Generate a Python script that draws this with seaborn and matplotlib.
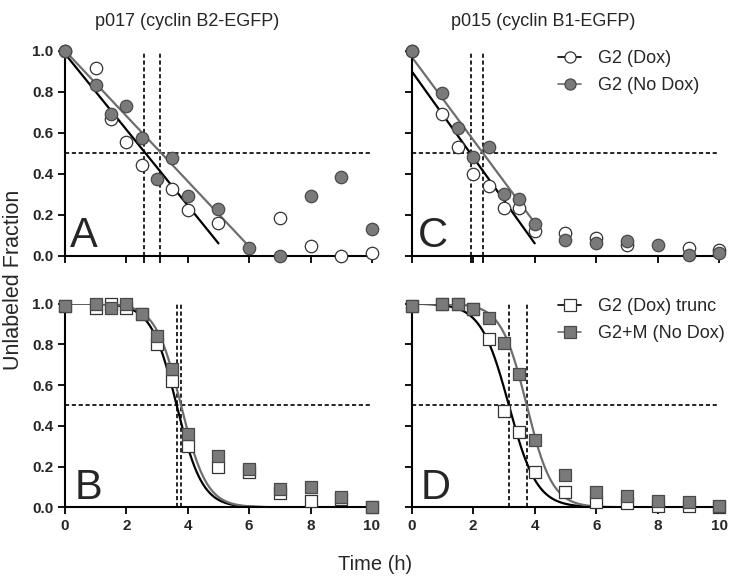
import numpy as np
import pandas as pd
import matplotlib
matplotlib.use('Agg')
import matplotlib.pyplot as plt
import seaborn as sns
from matplotlib.lines import Line2D

# panel A: p017, G2 phase, linear decay
A_t_dox = [0, 1, 1.5, 2, 2.5, 3.5, 4, 5, 7, 8, 9, 10]
A_dox = [1.0, 0.917, 0.665, 0.555, 0.442, 0.324, 0.223, 0.158, 0.182, 0.047, 0.0, 0.015]
A_t_nodox = [0, 1, 1.5, 2, 2.5, 3, 3.5, 4, 5, 6, 7, 8, 9, 10]
A_nodox = [1.0, 0.833, 0.691, 0.732, 0.572, 0.374, 0.478, 0.291, 0.228, 0.036, 0.0, 0.291, 0.382, 0.13]

# panel C: p015, G2 phase
C_t_dox = [0, 1, 1.5, 2, 2.5, 3, 3.5, 4, 5, 6, 7, 9, 10]
C_dox = [1.0, 0.689, 0.532, 0.40, 0.341, 0.234, 0.234, 0.122, 0.112, 0.085, 0.052, 0.037, 0.028]
C_t_nodox = [0, 1, 1.5, 2, 2.5, 3, 3.5, 4, 5, 6, 7, 8, 9, 10]
C_nodox = [1.0, 0.795, 0.625, 0.483, 0.532, 0.299, 0.275, 0.153, 0.076, 0.06, 0.072, 0.052, 0.003, 0.011]

# panels B/D: sigmoid decay
BD_t = [0, 1, 1.5, 2, 2.5, 3, 3.5, 4, 5, 6, 7, 8, 9, 10]
B_dox = [0.99, 0.98, 1.0, 0.98, 0.95, 0.80, 0.62, 0.30, 0.20, 0.175, 0.07, 0.03, 0.04, 0.0]
B_nodox = [0.99, 1.0, 0.98, 1.0, 0.95, 0.84, 0.68, 0.36, 0.25, 0.19, 0.09, 0.10, 0.05, 0.0]
D_dox = [0.99, 1.0, 1.0, 0.975, 0.826, 0.473, 0.37, 0.175, 0.077, 0.028, 0.02, 0.007, 0.005, 0.0]
D_nodox = [0.99, 1.0, 1.0, 0.975, 0.93, 0.808, 0.653, 0.33, 0.158, 0.077, 0.057, 0.033, 0.028, 0.007]

# fit results: linear (intercept, slope, end) and sigmoid (t50, steepness, end)
A_fit = {'dox': (0.985, -0.185, 5.0), 'nodox': (1.0, -0.1593, 6.0)}
C_fit = {'dox': (0.90, -0.21, 4.0), 'nodox': (0.97, -0.2025, 4.0)}
B_fit = {'dox': (3.64, 2.4, 7.0), 'nodox': (3.78, 2.4, 7.0)}
D_fit = {'dox': (3.16, 2.2, 8.0), 'nodox': (3.74, 2.4, 8.0)}
A_half = [2.59, 3.10]
C_half = [1.92, 2.33]
B_half = [3.64, 3.78]
D_half = [3.16, 3.74]

titles = ['p017 (cyclin B2-EGFP)', 'p015 (cyclin B1-EGFP)']
legend_top = ['G2 (Dox)', 'G2 (No Dox)']
legend_bot = ['G2 (Dox) trunc', 'G2+M (No Dox)']

sns.set_style('ticks')
plt.rcParams['font.family'] = ['Liberation Sans', 'DejaVu Sans']

GRAY = '#7a7a7a'
GRAY_EDGE = '#4a4a4a'
LINE_GRAY = '#6e6e6e'

fig = plt.figure(figsize=(7.35, 5.84), dpi=100)
axA = fig.add_axes([0.0884, 0.5622, 0.4177, 0.351])
axB = fig.add_axes([0.0884, 0.1313, 0.4177, 0.349])
axC = fig.add_axes([0.5601, 0.5622, 0.4185, 0.351])
axD = fig.add_axes([0.5601, 0.1313, 0.4185, 0.349])


def lin_curve(fit):
    b, m, end = fit
    x = np.array([0.0, end])
    return pd.DataFrame({'t': x, 'y': b + m * x})


def sig_curve(fit):
    t50, k, end = fit
    x = np.linspace(0, end, 300)
    return pd.DataFrame({'t': x, 'y': 1.0 / (1.0 + np.exp(k * (x - t50)))})


def draw(ax, t_dox, dox, t_nodox, nodox, fits, curve, marker, ms, half, letter, lx, ext_ticks):
    sns.lineplot(data=curve(fits['dox']), x='t', y='y', ax=ax, color='black', lw=1.6, zorder=2)
    sns.lineplot(data=curve(fits['nodox']), x='t', y='y', ax=ax, color=LINE_GRAY, lw=1.6, zorder=2)
    ax.axhline(0.5, color='black', lw=1.2, ls=(0, (2.5, 1.6)), zorder=1)
    for h in half:
        ax.plot([h, h], [0, 1.0], color='black', lw=1.2, ls=(0, (2.5, 1.6)), zorder=1)
    sns.scatterplot(x=t_dox, y=dox, ax=ax, marker=marker, s=ms, color='white',
                    edgecolor='#333333', linewidth=0.9, zorder=3, clip_on=False)
    sns.scatterplot(x=t_nodox, y=nodox, ax=ax, marker=marker, s=ms, color=GRAY,
                    edgecolor=GRAY_EDGE, linewidth=0.9, zorder=4, clip_on=False)
    ax.text(lx, 0.04, letter, fontsize=30, ha='left', va='baseline')
    ax.set_xlim(0, 10)
    ax.set_ylim(0, 1.0)
    ax.set_xticks([0, 2, 4, 6, 8, 10])
    ax.set_yticks([0, 0.2, 0.4, 0.6, 0.8, 1.0])
    if ext_ticks:
        ax.set_xticks(half, minor=True)
        ax.tick_params(axis='x', which='minor', length=5, width=1.3, color='black')
    ax.tick_params(which='major', length=5, width=1.3, color='black')
    for s in ['top', 'right']:
        ax.spines[s].set_visible(False)
    for s in ['left', 'bottom']:
        ax.spines[s].set_linewidth(1.5)
        ax.spines[s].set_color('black')
    ax.set_xlabel('')
    ax.set_ylabel('')


draw(axA, A_t_dox, A_dox, A_t_nodox, A_nodox, A_fit, lin_curve, 'o', 80, A_half, 'A', 0.17, True)
draw(axC, C_t_dox, C_dox, C_t_nodox, C_nodox, C_fit, lin_curve, 'o', 80, C_half, 'C', 0.2, True)
draw(axB, BD_t, B_dox, BD_t, B_nodox, B_fit, sig_curve, 's', 70, B_half, 'B', 0.3, False)
draw(axD, BD_t, D_dox, BD_t, D_nodox, D_fit, sig_curve, 's', 70, D_half, 'D', 0.3, False)

for ax in [axA, axB]:
    ax.set_yticklabels(['0.0', '0.2', '0.4', '0.6', '0.8', '1.0'], fontweight='bold', fontsize=11)
for ax in [axC, axD]:
    ax.set_yticklabels([])
for ax in [axA, axC]:
    ax.set_xticklabels([])
for ax in [axB, axD]:
    ax.set_xticklabels(['0', '2', '4', '6', '8', '10'], fontweight='bold', fontsize=11)

# legends
def leg(ax, marker, labels, anchor):
    handles = [
        Line2D([], [], color='black', lw=1.2, marker=marker, ms=8, mfc='white', mec='#333333', mew=0.9),
        Line2D([], [], color=LINE_GRAY, lw=1.2, marker=marker, ms=8, mfc=GRAY, mec=GRAY_EDGE, mew=0.9),
    ]
    ax.legend(handles, labels, loc='upper left', bbox_to_anchor=anchor, bbox_transform=fig.transFigure,
              frameon=False, fontsize=13, handlelength=1.3, handletextpad=0.9, labelspacing=0.55,
              borderpad=0, borderaxespad=0)


leg(axC, 'o', legend_top, (558 / 735, 1 - 50 / 584))
leg(axD, 's', legend_bot, (558 / 735, 1 - 298 / 584))

fig.text(187 / 735, 1 - 22 / 584, titles[0], ha='center', va='center', fontsize=13)
fig.text(543 / 735, 1 - 22 / 584, titles[1], ha='center', va='center', fontsize=13)
fig.text(14 / 735, 0.52, 'Unlabeled Fraction', rotation=90, ha='center', va='center', fontsize=15.5)
fig.text(375 / 735, 1 - 565 / 584, 'Time (h)', ha='center', va='center', fontsize=14.5)

fig.savefig('out.png', dpi=100)
